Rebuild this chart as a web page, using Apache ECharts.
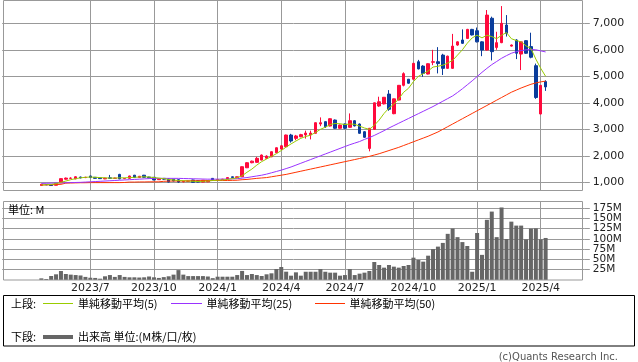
<!DOCTYPE html>
<html><head><meta charset="utf-8">
<script src="https://cdn.jsdelivr.net/npm/echarts@6/dist/echarts.min.js"></script>
<style>html,body{margin:0;padding:0;background:#fff}#c{width:638px;height:362px}</style>
</head><body><div id="c"></div>
<script>
const weeks = ['2023/2/27','2023/3/6','2023/3/13','2023/3/20','2023/3/27','2023/4/3','2023/4/10','2023/4/17','2023/4/24','2023/5/1',
'2023/5/8','2023/5/15','2023/5/22','2023/5/29','2023/6/5','2023/6/12','2023/6/19','2023/6/26','2023/7/3','2023/7/10',
'2023/7/17','2023/7/24','2023/7/31','2023/8/7','2023/8/14','2023/8/21','2023/8/28','2023/9/4','2023/9/11','2023/9/18',
'2023/9/25','2023/10/2','2023/10/9','2023/10/16','2023/10/23','2023/10/30','2023/11/6','2023/11/13','2023/11/20','2023/11/27',
'2023/12/4','2023/12/11','2023/12/18','2023/12/25','2024/1/1','2024/1/8','2024/1/15','2024/1/22','2024/1/29','2024/2/5',
'2024/2/12','2024/2/19','2024/2/26','2024/3/4','2024/3/11','2024/3/18','2024/3/25','2024/4/1','2024/4/8','2024/4/15',
'2024/4/22','2024/4/29','2024/5/6','2024/5/13','2024/5/20','2024/5/27','2024/6/3','2024/6/10','2024/6/17','2024/6/24',
'2024/7/1','2024/7/8','2024/7/15','2024/7/22','2024/7/29','2024/8/5','2024/8/12','2024/8/19','2024/8/26','2024/9/2',
'2024/9/9','2024/9/16','2024/9/23','2024/9/30','2024/10/7','2024/10/14','2024/10/21','2024/10/28','2024/11/4','2024/11/11',
'2024/11/18','2024/11/25','2024/12/2','2024/12/9','2024/12/16','2024/12/23','2024/12/30','2025/1/6','2025/1/13','2025/1/20',
'2025/1/27','2025/2/3','2025/2/10','2025/2/17','2025/2/24','2025/3/3','2025/3/10','2025/3/17','2025/3/24','2025/3/31',
'2025/4/7','2025/4/14','2025/4/21','2025/4/28','2025/5/5','2025/5/12','2025/5/19','2025/5/26','2025/6/2','2025/6/9'];

const tickWeeks  = ['2023/7/3','2023/10/2','2024/1/1','2024/4/1','2024/7/1','2024/10/7','2025/1/6','2025/4/7'];
const tickLabels = ['2023/7','2023/10','2024/1','2024/4','2024/7','2024/10','2025/1','2025/4'];
const priceTicks = [1000,2000,3000,4000,5000,6000,7000];
const volumeTicksA = [25,75,125,175];
const volumeTicksB = [50,100,150];

// data weeks: 2023/4/24 .. 2025/4/14
const dataWeeks = weeks.slice(8, 112);
const open = [880,920,905,890,980,1120,1150,1130,1200,1180,1240,1190,1170,1130,1170,1150,1300,1140,1150,1270,
1180,1270,1200,1190,1100,1150,1130,1120,1100,1020,1040,1090,1060,1010,1020,1150,1080,1100,1120,1210,
1180,1210,1550,1740,1755,1840,1910,1965,2115,2255,2345,2785,2660,2720,2790,2790,2850,3200,3290,3125,
3350,3040,3200,3075,3325,3200,2910,2280,3000,3880,3960,4330,3590,4105,4660,4890,4890,5550,5385,5085,
5530,5550,5800,5300,5300,6180,6370,6430,6770,6720,6300,5990,7190,6090,6270,6935,6140,6370,5840,6345,
6120,5400,3580,4800];
const close = [930,905,880,960,1140,1160,1160,1210,1170,1190,1180,1150,1140,1160,1150,1160,1130,1150,1240,1180,
1230,1190,1170,1090,1140,1120,1010,1050,1010,1040,1050,1000,1010,1080,1070,1080,1110,1120,1180,1180,
1210,1590,1740,1800,1905,2030,1990,2155,2305,2380,2785,2560,2750,2800,2860,2860,3250,3250,3100,3400,
3040,3160,3040,3325,3130,2850,2700,3040,4000,4040,4210,3755,4150,4660,5100,4740,5490,5280,5110,5475,
5550,5480,5300,5760,6140,6300,6245,6770,6560,6300,5990,7310,5930,6270,7000,6620,6180,5870,6300,5870,
5720,4200,4660,4600];
const low = [870,895,870,885,970,1100,1130,1120,1150,1160,1170,1140,1130,1120,1140,1140,1120,1120,1140,1170,
1170,1180,1160,1080,1090,1100,1000,1040,980,1000,1020,990,1000,1000,1010,1070,1070,1090,1110,1170,
1170,1200,1540,1720,1740,1830,1880,1950,2100,2230,2330,2500,2590,2700,2650,2620,2840,3120,3050,3110,
3020,3020,3010,3060,3110,2830,2680,2170,2990,3850,3940,3700,3570,4090,4620,4720,4880,5260,4980,5070,
5420,5110,5050,5280,5280,6150,6220,6410,6540,6280,5760,5970,5600,6000,6250,6500,6120,5650,5235,5850,
5680,4150,3560,4450];
const high = [940,925,915,975,1150,1180,1190,1230,1215,1210,1250,1200,1180,1170,1280,1175,1320,1160,1250,1280,
1240,1280,1210,1200,1150,1160,1140,1130,1110,1050,1060,1100,1070,1090,1080,1160,1120,1130,1190,1220,
1220,1600,1760,1820,1960,2050,2020,2170,2320,2400,2800,2830,2790,2830,2950,2950,3260,3450,3300,3420,
3370,3180,3220,3600,3340,3220,2930,3050,4010,4230,4220,4480,4160,4670,5150,4900,5500,5620,5420,5490,
6000,6100,5850,5780,6600,6320,6770,6790,6790,6840,6320,7500,7250,6680,7650,7310,6200,6400,6320,6360,
6645,5480,4670,4850];
const volume = [4,2.5,9.7,13.8,21.8,14.5,13,12,11,7.5,5.5,5,3.2,9,12,7.5,12,7.5,6.5,6.5,
6,6.5,8.5,6.5,5,7,9,13,24,13,9.5,9.5,9.5,9.5,8.5,4.5,8,8,8,8,
12,22,12,14.6,12,9.7,13.8,16.2,26.7,31.6,20.2,10.5,18.6,10.5,20,20,20,26.7,20,17.8,
17.8,10.5,12,26.7,12,15.4,17.8,21.8,43.7,36.4,30,36.4,32.4,30,34,36.4,54.2,48.5,44.5,59,
75,81,90,112,125,104,92,82.5,20,114,61,146,166,104,176,99.5,141.6,132,132,98.7,
124.6,125.4,98.7,102];
const ma5 = [900,910,920,950,1000,1050,1100,1140,1170,1190,1200,1190,1180,1170,1160,1160,1170,1170,1180,1190,
1200,1210,1200,1180,1160,1140,1110,1090,1070,1060,1050,1040,1030,1040,1050,1070,1080,1090,1110,1140,
1170,1250,1380,1500,1650,1780,1880,1980,2080,2200,2330,2450,2560,2660,2730,2780,2880,3000,3080,3180,
3220,3210,3180,3200,3190,3120,3050,3000,3150,3350,3600,3800,3950,4150,4400,4550,4800,5000,5100,5200,
5350,5380,5420,5500,5600,5800,6000,6250,6450,6550,6450,6550,6500,6420,6550,6650,6420,6350,6300,6150,
6050,5650,5300,5000];
const ma25 = [960,965,970,975,980,985,990,995,1000,1010,1020,1030,1040,1050,1060,1070,1080,1090,1100,1110,
1120,1130,1140,1150,1150,1150,1150,1150,1150,1145,1140,1135,1130,1125,1120,1120,1120,1120,1125,1130,
1140,1160,1180,1210,1240,1270,1310,1360,1410,1460,1520,1580,1650,1720,1790,1860,1930,2000,2070,2140,
2210,2280,2350,2420,2480,2540,2620,2690,2770,2860,2950,3050,3140,3230,3320,3410,3500,3590,3680,3770,
3860,3960,4060,4160,4260,4390,4530,4680,4830,4990,5150,5300,5440,5560,5680,5780,5870,5930,5970,6000,
6010,6000,5960,5920];
const ma50 = [900,905,910,915,925,970,975,980,985,985,990,990,990,990,990,990,990,995,1010,1010,
1015,1015,1020,1020,1020,1040,1045,1050,1050,1055,1055,1060,1060,1065,1065,1070,1070,1070,1070,1075,
1080,1100,1110,1130,1150,1165,1180,1210,1240,1270,1300,1340,1380,1420,1460,1500,1540,1580,1620,1660,
1700,1740,1780,1820,1860,1900,1940,1980,2030,2080,2140,2200,2260,2320,2390,2460,2530,2600,2670,2740,
2820,2900,3000,3100,3200,3300,3400,3500,3600,3700,3800,3900,4000,4100,4200,4300,4400,4480,4560,4630,
4700,4750,4790,4820];

const C_UP = '#ff0a3c', C_DOWN = '#0a3c9b', C_MA5 = '#99cc00', C_MA25 = '#9933ff', C_MA50 = '#ff3300', C_VOL = '#666666', C_GRID = '#999999';
const isTick = (i, v) => tickWeeks.indexOf(v) >= 0;
const labelFont = 'DejaVu Sans';

const candleData = dataWeeks.map((w, k) => [w, open[k], close[k], low[k], high[k]]);
const pair = arr => dataWeeks.map((w, k) => [w, arr[k]]);

const chart = echarts.init(document.getElementById('c'), null, {renderer: 'canvas'});
const xBase = (gi, showLabel) => ({
  type: 'category', gridIndex: gi, data: weeks, boundaryGap: false,
  axisLine: {show: false}, axisTick: {show: false},
  splitLine: {show: true, interval: isTick, lineStyle: {color: C_GRID, width: 1}},
  axisLabel: {show: showLabel, interval: isTick, margin: 3, fontFamily: labelFont, fontSize: 11, color: '#222',
    formatter: v => tickLabels[tickWeeks.indexOf(v)] || ''}
});
const volAxis = ticks => ({
  type: 'value', gridIndex: 1, position: 'right', min: 0, max: 190,
  axisLine: {show: false},
  axisTick: {show: true, length: 5, customValues: ticks, lineStyle: {color: C_GRID}},
  splitLine: {show: true, lineStyle: {color: C_GRID}},
  axisLabel: {customValues: ticks, margin: 8, fontFamily: labelFont, fontSize: 10.5, color: '#222',
    hideOverlap: false, formatter: v => v + 'M'}
});
chart.setOption({
  animation: false,
  grid: [
    {left: 2.2, right: 53.2, top: 0.5, height: 189.8},
    {left: 2.2, right: 53.2, top: 201.7, height: 78.3}
  ],
  xAxis: [xBase(0, false), xBase(1, true)],
  yAxis: [
    {type: 'value', gridIndex: 0, position: 'right', min: 700, max: 7860, scale: true,
     axisLine: {show: false},
     axisTick: {show: true, length: 5, customValues: priceTicks, lineStyle: {color: C_GRID}},
     splitLine: {show: true, lineStyle: {color: C_GRID}},
     axisLabel: {customValues: priceTicks, margin: 8, fontFamily: labelFont, fontSize: 11, color: '#222', hideOverlap: false,
       formatter: v => v.toLocaleString('en-US')}},
    volAxis(volumeTicksA),
    volAxis(volumeTicksB)
  ],
  series: [
    {type: 'candlestick', xAxisIndex: 0, yAxisIndex: 0, data: candleData, encode: {x: 0, y: [1, 2, 3, 4]},
     barWidth: 3, itemStyle: {color: C_UP, color0: C_DOWN, borderColor: C_UP, borderColor0: C_DOWN, borderWidth: 1}, z: 2},
    {type: 'line', xAxisIndex: 0, yAxisIndex: 0, data: pair(ma50), symbol: 'none', lineStyle: {color: C_MA50, width: 1}, z: 3},
    {type: 'line', xAxisIndex: 0, yAxisIndex: 0, data: pair(ma25), symbol: 'none', lineStyle: {color: C_MA25, width: 1}, z: 3},
    {type: 'line', xAxisIndex: 0, yAxisIndex: 0, data: pair(ma5), symbol: 'none', lineStyle: {color: C_MA5, width: 1}, z: 3},
    {type: 'bar', xAxisIndex: 1, yAxisIndex: 1, data: pair(volume), barWidth: 4, itemStyle: {color: C_VOL}, z: 2}
  ],
  graphic: [
    {type: 'rect', shape: {x: 3.5, y: 0.5, width: 579, height: 190}, style: {fill: 'none', stroke: C_GRID, lineWidth: 1}, z: 10},
    {type: 'rect', shape: {x: 3.5, y: 201.5, width: 579, height: 78.5}, style: {fill: 'none', stroke: C_GRID, lineWidth: 1}, z: 10},
    {type: 'text', x: 8, y: 210, style: {text: '単位: M', font: '11px "Noto Sans CJK JP"', fill: '#000', verticalAlign: 'middle'}, z: 10},
    {type: 'rect', shape: {x: 3.5, y: 295.5, width: 631, height: 50.5}, style: {fill: 'none', stroke: '#000', lineWidth: 1}, z: 10},
    {type: 'text', x: 11, y: 303.5, style: {text: '上段:', font: '11px "Noto Sans CJK JP"', fill: '#000', verticalAlign: 'middle'}},
    {type: 'line', shape: {x1: 43, y1: 303.5, x2: 73, y2: 303.5}, style: {stroke: C_MA5, lineWidth: 1}},
    {type: 'text', x: 78, y: 303.5, style: {text: '単純移動平均(5)', font: '11px "Noto Sans CJK JP"', fill: '#000', verticalAlign: 'middle'}},
    {type: 'line', shape: {x1: 171, y1: 303.5, x2: 202, y2: 303.5}, style: {stroke: C_MA25, lineWidth: 1}},
    {type: 'text', x: 206.5, y: 303.5, style: {text: '単純移動平均(25)', font: '11px "Noto Sans CJK JP"', fill: '#000', verticalAlign: 'middle'}},
    {type: 'line', shape: {x1: 315, y1: 303.5, x2: 345, y2: 303.5}, style: {stroke: C_MA50, lineWidth: 1}},
    {type: 'text', x: 349.5, y: 303.5, style: {text: '単純移動平均(50)', font: '11px "Noto Sans CJK JP"', fill: '#000', verticalAlign: 'middle'}},
    {type: 'text', x: 11, y: 337, style: {text: '下段:', font: '11px "Noto Sans CJK JP"', fill: '#000', verticalAlign: 'middle'}},
    {type: 'line', shape: {x1: 43, y1: 337, x2: 73, y2: 337}, style: {stroke: C_VOL, lineWidth: 4}},
    {type: 'text', x: 78, y: 337, style: {text: '出来高 単位:(M株/口/枚)', font: '11px "Noto Sans CJK JP"', fill: '#000', verticalAlign: 'middle'}},
    {type: 'text', x: 618, y: 357.5, style: {text: '(c)Quants Research Inc.', font: '10px "DejaVu Sans"', fill: '#555', align: 'right', verticalAlign: 'middle'}}
  ]
});
</script></body></html>
